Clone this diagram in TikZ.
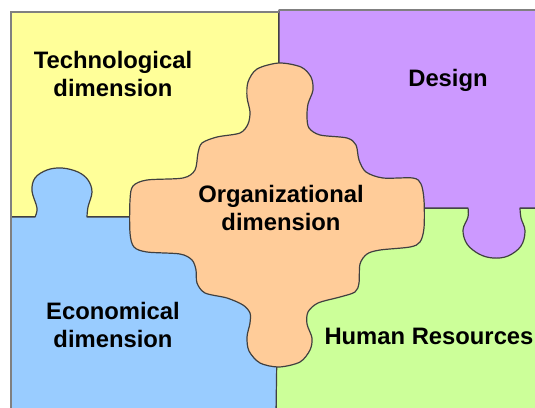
\documentclass[tikz,border=0pt]{standalone}
\usepackage{fontspec}
\setmainfont{Liberation Sans}
\definecolor{techyellow}{HTML}{FFFF99}
\definecolor{designpurple}{HTML}{CC99FF}
\definecolor{ecoblue}{HTML}{99CCFF}
\definecolor{humangreen}{HTML}{CCFF99}
\definecolor{orgorange}{HTML}{FFCC99}
\begin{document}
\begin{tikzpicture}[
    x=1pt, y=-1pt,
    font={\bfseries\fontsize{23.8}{28.5}\selectfont},
    piece/.style={draw=black!75, line width=1.2pt, line join=round},
    frame/.style={draw=black!50, line width=2pt},
    dimlabel/.style={align=center, inner sep=0pt, text=black},
]
    \useasboundingbox (0,0) rectangle (535,407);

    % Puzzle pieces
    \path[piece, fill=humangreen] (276,208) rectangle (540,412);
    \path[piece, fill=techyellow] (11,12) rectangle (279,217);
    \path[piece, fill=ecoblue] (11,412) -- (11,217)
        -- plot[smooth, tension=0.6] coordinates {(35,217) (37,208) (32,191) (35,178) (47,170) (62,168) (78,172) (88,180) (92,192) (88,207) (87,217)}
        -- (279,217) -- (276,412) -- cycle;
    \path[piece, fill=designpurple] (279,10) -- (540,10) -- (540,208)
        -- plot[smooth, tension=0.6] coordinates {(520,208) (521,218) (525,231) (521,246) (508,256) (493,258) (479,254) (467,244) (463,230) (468,217) (468,208)}
        -- (279,208) -- cycle;

    % Outer frame
    \draw[frame] (11,412) -- (11,12) -- (279,12);
    \draw[frame] (279,10) -- (540,10);

    % Central piece
    \path[piece, fill=orgorange] plot[smooth cycle, tension=0.5] coordinates {
        (279,63) (301,67) (311,77) (313,90) (308,104) (307,117) (309,128) (320,135)
        (347,138) (356,145) (359,160) (366,172) (383,178) (413,178) (421,184) (424,200)
        (424,228) (420,242) (410,247) (380,250) (367,254) (360,264) (359,283) (355,292)
        (340,297) (318,303) (308,312) (307,324) (312,338) (310,350) (300,362) (279,367)
        (260,363) (249,351) (247,337) (250,323) (250,313) (243,305) (227,298) (205,293)
        (197,283) (196,270) (192,260) (180,254) (147,252) (134,247) (130,233) (130,200)
        (133,186) (147,180) (183,178) (195,170) (198,153) (202,143) (217,137) (240,133)
        (248,124) (250,112) (247,97) (248,82) (257,69)};

    % Labels
    \node[dimlabel] (tech) at (113,74) {Technological\\dimension};
    \node[dimlabel, anchor=base] (design) at (448,86) {Design};
    \node[dimlabel] (org) at (281,208) {Organizational\\dimension};
    \node[dimlabel] (eco) at (113,325) {Economical\\dimension};
    \node[dimlabel, anchor=base] (human) at (429,344) {Human Resources};

\end{tikzpicture}
\end{document}
